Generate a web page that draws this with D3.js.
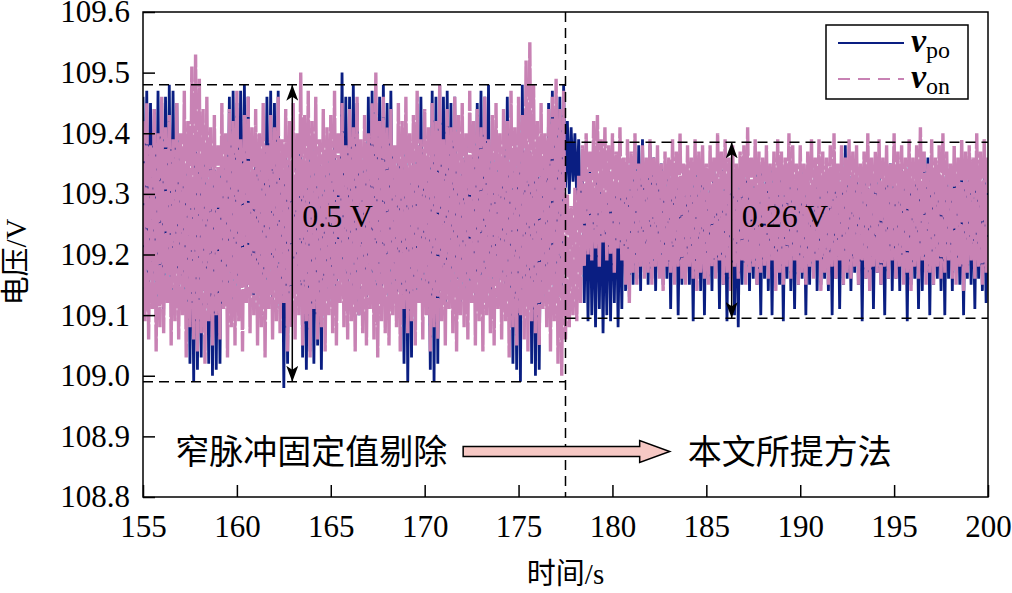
<!DOCTYPE html>
<html>
<head>
<meta charset="utf-8">
<script src="https://cdn.jsdelivr.net/npm/d3@7"></script>
<style>
  body { margin: 0; background: #fff; }
  svg text { font-family: "Times New Roman", "Liberation Serif", "DejaVu Serif", "Noto Sans CJK SC", serif; fill: #000; }
</style>
</head>
<body>
<div id="container"></div>
<script>
const width = 1012, height = 593
const margin = {top: 12, right: 24, bottom: 96, left: 143}
const serif = '"Times New Roman", "Liberation Serif", "Noto Sans CJK SC", serif'

const xTicks = [155, 160, 165, 170, 175, 180, 185, 190, 195, 200]
const yTicks = [108.8, 108.9, 109.0, 109.1, 109.2, 109.3, 109.4, 109.5, 109.6]
const sampleStep = 0.1
const switchTime = 177.5

// v_po, 155.0 s .. 177.4 s
const vpoA = [
  109.46,109.14,109.47,109.12,109.45,109.16,109.44,109.13,109.47,109.15,
  109.45,109.11,109.46,109.14,109.48,109.12,109.47,109.17,109.45,109.13,
  109.36,109.15,109.34,109.10,109.38,109.02,109.32,108.99,109.37,109.01,
  109.35,109.03,109.39,109.14,109.33,109.02,109.37,109.00,109.34,109.01,
  109.31,109.02,109.36,109.13,109.38,109.15,109.46,109.12,109.47,109.14,
  109.45,109.11,109.47,109.16,109.48,109.13,109.46,109.15,109.32,109.12,
  109.39,109.14,109.35,109.10,109.37,109.13,109.46,109.16,109.47,109.12,
  109.45,109.15,109.47,109.11,109.34,108.98,109.38,109.02,109.35,109.13,
  109.32,109.14,109.37,109.12,109.39,109.03,109.33,109.01,109.36,109.04,
  109.38,109.02,109.34,109.05,109.36,109.01,109.31,109.15,109.37,109.12,
  109.35,109.14,109.38,109.11,109.33,109.16,109.50,109.13,109.46,109.15,
  109.46,109.12,109.48,109.14,109.45,109.10,109.37,109.16,109.34,109.13,
  109.46,109.15,109.47,109.12,109.45,109.14,109.46,109.11,109.48,109.16,
  109.45,109.13,109.47,109.15,109.34,109.12,109.38,109.14,109.35,109.02,
  109.37,108.99,109.33,109.03,109.36,109.14,109.38,109.12,109.46,109.15,
  109.34,109.13,109.36,109.01,109.47,108.99,109.46,109.02,109.48,109.14,
  109.46,109.12,109.47,109.15,109.45,109.13,109.46,109.16,109.35,109.11,
  109.36,109.14,109.39,109.12,109.34,109.15,109.37,109.13,109.45,109.16,
  109.47,109.12,109.46,109.14,109.48,109.11,109.33,109.15,109.36,109.13,
  109.34,109.16,109.37,109.12,109.46,109.14,109.35,109.02,109.39,109.01,
  109.36,108.99,109.48,109.13,109.34,109.15,109.37,109.02,109.33,109.00,
  109.38,109.01,109.35,109.12,109.37,109.13,109.45,109.15,109.47,109.12,
  109.44,109.13,109.46,109.14,109.48
]
// v_po, 177.5 s .. 200.0 s
const vpoB = [
  109.31,109.42,109.30,109.41,109.32,
  109.40,109.29,109.39,109.27,109.33,109.12,109.31,109.09,109.34,109.10,
  109.30,109.08,109.33,109.11,109.32,109.07,109.29,109.10,109.34,109.09,
  109.31,109.12,109.33,109.08,109.30,109.11,109.35,109.14,109.32,109.13,
  109.36,109.15,109.37,109.16,109.38,109.14,109.39,109.17,109.34,109.15,
  109.38,109.16,109.36,109.14,109.33,109.17,109.35,109.15,109.32,109.16,
  109.34,109.11,109.33,109.16,109.35,109.10,109.32,109.15,109.34,109.17,
  109.31,109.15,109.33,109.09,109.35,109.16,109.32,109.14,109.34,109.10,
  109.33,109.16,109.31,109.14,109.35,109.17,109.32,109.11,109.34,109.15,
  109.32,109.09,109.35,109.16,109.33,109.10,109.31,109.08,109.34,109.15,
  109.33,109.17,109.35,109.14,109.32,109.16,109.34,109.15,109.31,109.10,
  109.35,109.16,109.32,109.14,109.34,109.10,109.33,109.17,109.31,109.15,
  109.34,109.09,109.32,109.16,109.35,109.14,109.31,109.11,109.33,109.15,
  109.32,109.16,109.34,109.10,109.33,109.15,109.31,109.17,109.35,109.14,
  109.33,109.15,109.31,109.16,109.34,109.14,109.32,109.10,109.35,109.16,
  109.34,109.11,109.32,109.15,109.38,109.16,109.33,109.14,109.31,109.17,
  109.35,109.15,109.32,109.09,109.34,109.16,109.31,109.14,109.33,109.11,
  109.32,109.17,109.34,109.15,109.31,109.10,109.33,109.16,109.35,109.14,
  109.33,109.16,109.31,109.14,109.34,109.17,109.32,109.09,109.35,109.15,
  109.31,109.16,109.33,109.11,109.32,109.14,109.34,109.17,109.36,109.10,
  109.34,109.15,109.32,109.16,109.31,109.14,109.33,109.10,109.35,109.16,
  109.32,109.14,109.34,109.17,109.31,109.15,109.33,109.10,109.35,109.16,
  109.33,109.15,109.31,109.11,109.34,109.16,109.32,109.14,109.33,109.12,
  109.32
]
// v_on, 155.0 s .. 177.4 s
const vonA = [
  109.42,109.09,109.45,109.06,109.38,109.11,109.44,109.04,109.40,109.08,
  109.46,109.07,109.41,109.12,109.43,109.05,109.39,109.09,109.45,109.06,
  109.40,109.10,109.47,109.03,109.42,109.08,109.51,109.06,109.53,109.04,
  109.49,109.07,109.44,109.02,109.46,109.09,109.41,109.05,109.43,109.10,
  109.38,109.06,109.45,109.11,109.40,109.03,109.44,109.08,109.42,109.05,
  109.47,109.09,109.39,109.04,109.43,109.12,109.46,109.07,109.41,109.10,
  109.44,109.05,109.40,109.08,109.45,109.03,109.38,109.11,109.43,109.06,
  109.41,109.09,109.46,109.07,109.39,109.12,109.44,109.04,109.42,109.08,
  109.45,109.06,109.40,109.10,109.50,109.05,109.43,109.09,109.47,109.03,
  109.42,109.11,109.46,109.06,109.39,109.08,109.44,109.04,109.41,109.10,
  109.43,109.07,109.47,109.05,109.40,109.12,109.45,109.08,109.38,109.06,
  109.44,109.09,109.41,109.04,109.46,109.10,109.39,109.07,109.43,109.05,
  109.40,109.11,109.45,109.06,109.50,109.03,109.42,109.09,109.46,109.07,
  109.41,109.05,109.44,109.10,109.38,109.08,109.45,109.04,109.42,109.11,
  109.46,109.07,109.40,109.09,109.43,109.05,109.47,109.12,109.39,109.06,
  109.44,109.10,109.41,109.04,109.45,109.08,109.42,109.06,109.48,109.09,
  109.39,109.05,109.44,109.11,109.41,109.07,109.46,109.04,109.43,109.10,
  109.45,109.08,109.40,109.06,109.47,109.12,109.42,109.05,109.44,109.09,
  109.41,109.04,109.46,109.10,109.39,109.07,109.43,109.05,109.45,109.11,
  109.40,109.06,109.44,109.09,109.42,109.03,109.47,109.08,109.41,109.05,
  109.46,109.10,109.43,109.06,109.52,109.04,109.55,109.09,109.48,109.07,
  109.42,109.05,109.45,109.11,109.40,109.08,109.44,109.04,109.46,109.09,
  109.49,109.02,109.44,109.00,109.47
]
// v_on, 177.5 s .. 200.0 s
const vonB = [
  109.06,109.30,109.08,109.28,109.10,
  109.31,109.09,109.33,109.12,109.38,109.18,109.40,109.20,109.37,109.19,
  109.42,109.21,109.43,109.18,109.39,109.22,109.41,109.19,109.38,109.20,
  109.40,109.17,109.37,109.21,109.41,109.19,109.36,109.15,109.39,109.12,
  109.37,109.17,109.40,109.15,109.35,109.18,109.38,109.16,109.36,109.17,
  109.39,109.15,109.36,109.18,109.38,109.16,109.35,109.14,109.37,109.18,
  109.36,109.17,109.39,109.15,109.37,109.18,109.40,109.16,109.35,109.15,
  109.38,109.18,109.36,109.16,109.39,109.14,109.37,109.17,109.38,109.16,
  109.35,109.15,109.38,109.18,109.36,109.16,109.40,109.19,109.37,109.15,
  109.39,109.17,109.36,109.14,109.38,109.18,109.35,109.16,109.37,109.19,
  109.38,109.15,109.41,109.17,109.36,109.18,109.39,109.15,109.37,109.17,
  109.36,109.18,109.38,109.16,109.35,109.19,109.37,109.14,109.39,109.17,
  109.37,109.15,109.36,109.18,109.40,109.16,109.38,109.19,109.35,109.15,
  109.38,109.17,109.35,109.15,109.37,109.18,109.39,109.16,109.36,109.19,
  109.39,109.14,109.37,109.17,109.36,109.15,109.38,109.18,109.40,109.16,
  109.35,109.19,109.38,109.15,109.36,109.17,109.39,109.16,109.37,109.18,
  109.38,109.15,109.35,109.19,109.37,109.16,109.40,109.14,109.36,109.18,
  109.37,109.17,109.39,109.15,109.36,109.18,109.38,109.16,109.35,109.19,
  109.40,109.16,109.37,109.18,109.38,109.15,109.36,109.17,109.39,109.14,
  109.36,109.18,109.38,109.16,109.41,109.19,109.37,109.15,109.35,109.17,
  109.39,109.15,109.36,109.18,109.38,109.16,109.40,109.17,109.37,109.19,
  109.35,109.16,109.38,109.15,109.36,109.18,109.39,109.14,109.37,109.17,
  109.38,109.19,109.36,109.16,109.40,109.18,109.37,109.15,109.39,109.17,
  109.36
]

// ripple bands
const bandStart = [155, 177.5]
const bandEnd = [177.5, 200]
const bandUpper = [109.48, 109.385]
const bandLower = [108.99, 109.095]
const bandArrowAt = [162.95, 186.35]
const bandLabels = ["0.5 V", "0.26 V"]

const methodLabels = ["窄脉冲固定值剔除", "本文所提方法"]

const blue = "#0a1e82"
const pink = "#c882b4"

const x = d3.scaleLinear().domain([155, 200]).range([margin.left, width - margin.right])
const y = d3.scaleLinear().domain([108.8, 109.6]).range([height - margin.bottom, margin.top])

const svg = d3.select("#container").append("svg")
    .attr("width", width)
    .attr("height", height)

const defs = svg.append("defs")
defs.append("marker")
    .attr("id", "head")
    .attr("viewBox", "0 0 16 12")
    .attr("refX", 16)
    .attr("refY", 6)
    .attr("markerWidth", 16)
    .attr("markerHeight", 12)
    .attr("markerUnits", "userSpaceOnUse")
    .attr("orient", "auto-start-reverse")
    .append("path")
    .attr("d", "M0,0 L16,6 L0,12 L4,6 Z")
    .attr("fill", "#000")

defs.append("clipPath").attr("id", "plot")
    .append("rect")
    .attr("x", margin.left).attr("y", margin.top)
    .attr("width", width - margin.left - margin.right)
    .attr("height", height - margin.top - margin.bottom)

function seriesLine(t0) {
    return d3.line()
        .x((d, i) => x(t0 + i * sampleStep))
        .y(d => y(d))
}

const plot = svg.append("g").attr("clip-path", "url(#plot)")

// v_po below, v_on (dashed) on top
plot.append("path")
    .attr("d", seriesLine(155)(vpoA) + seriesLine(switchTime)(vpoB).replace(/^M/, "L"))
    .attr("fill", "none")
    .attr("stroke", blue)
    .attr("stroke-width", 2.8)

plot.append("path")
    .attr("d", seriesLine(155)(vonA) + seriesLine(switchTime)(vonB).replace(/^M/, "L"))
    .attr("fill", "none")
    .attr("stroke", pink)
    .attr("stroke-width", 3.4)
    .attr("stroke-dasharray", "40,2")

// band limits
const bands = svg.append("g")
    .attr("stroke", "#000")
    .attr("stroke-width", 1.5)
    .attr("stroke-dasharray", "10,6")
bandStart.forEach((s, i) => {
    [bandUpper[i], bandLower[i]].forEach(v => {
        bands.append("line")
            .attr("x1", x(s)).attr("x2", x(bandEnd[i]))
            .attr("y1", y(v)).attr("y2", y(v))
    })
})

svg.append("line")
    .attr("x1", x(switchTime)).attr("x2", x(switchTime))
    .attr("y1", y(109.6)).attr("y2", y(108.8))
    .attr("stroke", "#000")
    .attr("stroke-width", 1.5)
    .attr("stroke-dasharray", "10,6")

// ripple arrows and labels
bandStart.forEach((s, i) => {
    svg.append("line")
        .attr("x1", x(bandArrowAt[i])).attr("x2", x(bandArrowAt[i]))
        .attr("y1", y(bandUpper[i])).attr("y2", y(bandLower[i]))
        .attr("stroke", "#000")
        .attr("stroke-width", 1.5)
        .attr("marker-start", "url(#head)")
        .attr("marker-end", "url(#head)")
    svg.append("text")
        .attr("x", x(bandArrowAt[i]) + 10)
        .attr("y", y(109.264))
        .attr("dy", "0.35em")
        .attr("font-size", 32)
        .text(bandLabels[i])
})

// method arrow
const ax0 = x(172.05), ax1 = x(183.05), axHead = x(181.45), ay = y(108.875)
svg.append("path")
    .attr("d", `M${ax0},${ay - 5}L${axHead},${ay - 5}L${axHead},${ay - 11}L${ax1},${ay}L${axHead},${ay + 11}L${axHead},${ay + 5}L${ax0},${ay + 5}Z`)
    .attr("fill", "#f6c8c4")
    .attr("stroke", "#000")
    .attr("stroke-width", 1.5)

svg.append("text")
    .attr("x", ax0 - 16)
    .attr("y", ay)
    .attr("dy", "0.36em")
    .attr("text-anchor", "end")
    .attr("font-size", 34)
    .text(methodLabels[0])

svg.append("text")
    .attr("x", ax1 + 18)
    .attr("y", ay)
    .attr("dy", "0.36em")
    .attr("font-size", 34)
    .text(methodLabels[1])

// axes
const yAxis = svg.append("g")
    .attr("transform", `translate(${margin.left},0)`)
    .call(d3.axisLeft(y).tickValues(yTicks).tickFormat(d3.format(".1f")).tickSize(-12).tickPadding(13))
yAxis.select(".domain").remove()

const xAxis = svg.append("g")
    .attr("transform", `translate(0,${height - margin.bottom})`)
    .call(d3.axisBottom(x).tickValues(xTicks).tickSize(-12).tickPadding(18))
xAxis.select(".domain").remove()

svg.selectAll(".tick line").attr("stroke", "#000").attr("stroke-width", 1.5)
svg.selectAll(".tick text")
    .style("font-family", serif)
    .style("font-size", "31px")

svg.append("rect")
    .attr("x", margin.left).attr("y", margin.top)
    .attr("width", width - margin.left - margin.right)
    .attr("height", height - margin.top - margin.bottom)
    .attr("fill", "none")
    .attr("stroke", "#000")
    .attr("stroke-width", 1.5)

svg.append("text")
    .attr("x", (margin.left + width - margin.right) / 2)
    .attr("y", 584)
    .attr("text-anchor", "middle")
    .attr("font-size", 29)
    .text("时间/s")

svg.append("text")
    .attr("transform", `translate(26,262) rotate(-90)`)
    .attr("text-anchor", "middle")
    .attr("font-size", 29)
    .text("电压/V")

// legend
const legend = svg.append("g").attr("transform", "translate(826,25)")
legend.append("rect")
    .attr("width", 142).attr("height", 74)
    .attr("fill", "#fff")
    .attr("stroke", "#000")
    .attr("stroke-width", 1.5)
const legendItems = [
    {color: blue, dash: null, sub: "po"},
    {color: pink, dash: "12,8", sub: "on"}
]
legendItems.forEach((d, i) => {
    const ly = 18 + i * 36
    legend.append("line")
        .attr("x1", 12).attr("x2", 78)
        .attr("y1", ly).attr("y2", ly)
        .attr("stroke", d.color)
        .attr("stroke-width", 2)
        .attr("stroke-dasharray", d.dash)
    const t = legend.append("text")
        .attr("x", 85)
        .attr("y", ly + 9)
        .attr("font-size", 34)
    t.append("tspan").attr("font-style", "italic").attr("font-weight", "bold").text("v")
    t.append("tspan").attr("font-size", 24).attr("dy", 6).text(d.sub)
})
</script>
</body>
</html>
